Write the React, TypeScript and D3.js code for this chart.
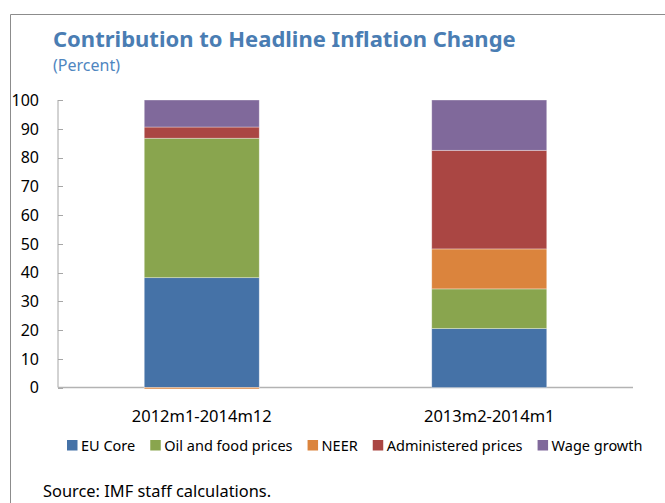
import React, { useEffect, useRef } from "react";
import * as d3 from "d3";

const categories = ["2012m1-2014m12", "2013m2-2014m1"];
const seriesNames = ["EU Core", "Oil and food prices", "NEER", "Administered prices", "Wage growth"];
const euCore = [38.2, 20.5];
const oilFood = [48.5, 13.8];
const neer = [-0.5, 13.9];
const administered = [3.9, 34.3];
const wageGrowth = [9.4, 17.5];
const yTicks = [0, 10, 20, 30, 40, 50, 60, 70, 80, 90, 100];
const colors = ["#4572a7", "#89a54e", "#db843d", "#aa4643", "#80699b"];

const W = 665;
const H = 503;
const FONT = "'Noto Sans', sans-serif";

export default function App() {
  const ref = useRef<SVGSVGElement>(null);

  useEffect(() => {
    const svg = d3.select(ref.current!);
    svg.selectAll("*").remove();

    const seriesValues = [euCore, oilFood, neer, administered, wageGrowth];
    const rows = categories.map((c, i) => {
      const r: Record<string, any> = { category: c };
      seriesNames.forEach((s, k) => (r[s] = seriesValues[k][i]));
      return r;
    });

    const x = d3.scaleBand<string>().domain(categories).range([58, 633]);
    const y = d3.scaleLinear().domain([0, 100]).range([387.5, 100]);
    const barW = x.bandwidth() * 0.4;

    // frame
    svg.append("path")
      .attr("d", `M10.5,${H} V14.5 H${W}`)
      .attr("fill", "none")
      .attr("stroke", "#8c8c8c")
      .attr("stroke-width", 1);

    // title
    svg.append("text")
      .attr("x", 53).attr("y", 46.5)
      .attr("font-family", FONT).attr("font-size", 22).attr("font-weight", "bold")
      .attr("fill", "#4a7db3")
      .text("Contribution to Headline Inflation Change");
    svg.append("text")
      .attr("x", 53).attr("y", 71)
      .attr("font-family", FONT).attr("font-size", 16)
      .attr("fill", "#4f86c0")
      .text("(Percent)");

    // y axis
    const gy = svg.append("g");
    gy.append("line")
      .attr("x1", 58).attr("x2", 58)
      .attr("y1", y(100)).attr("y2", y(0))
      .attr("stroke", "#a6a6a6").attr("stroke-width", 1);
    yTicks.forEach((t) => {
      gy.append("line")
        .attr("x1", 58).attr("x2", 63)
        .attr("y1", Math.round(y(t)) + 0.5).attr("y2", Math.round(y(t)) + 0.5)
        .attr("stroke", "#a6a6a6").attr("stroke-width", 1);
      gy.append("text")
        .attr("x", 39).attr("y", y(t))
        .attr("dy", "0.36em")
        .attr("text-anchor", "end")
        .attr("font-family", FONT).attr("font-size", 16)
        .attr("fill", "#000")
        .text(String(t));
    });

    // x axis
    svg.append("line")
      .attr("x1", 58).attr("x2", 633)
      .attr("y1", y(0)).attr("y2", y(0))
      .attr("stroke", "#b3b3b3").attr("stroke-width", 1.5);

    // bars
    const stack = d3.stack<Record<string, any>>()
      .keys(seriesNames)
      .offset(d3.stackOffsetDiverging);
    const stacked = stack(rows);
    const gb = svg.append("g");
    stacked.forEach((layer, k) => {
      gb.selectAll(null)
        .data(layer)
        .enter()
        .append("rect")
        .attr("x", (d: any) => x(d.data.category)! + (x.bandwidth() - barW) / 2)
        .attr("width", barW)
        .attr("y", (d: any) => y(Math.max(d[0], d[1])))
        .attr("height", (d: any) => Math.abs(y(d[0]) - y(d[1])))
        .attr("fill", colors[k])
        .attr("stroke", "#ffffff")
        .attr("stroke-opacity", 0.45)
        .attr("stroke-width", 0.75);
    });

    // x labels
    categories.forEach((c) => {
      svg.append("text")
        .attr("x", x(c)! + x.bandwidth() / 2)
        .attr("y", 421.5)
        .attr("text-anchor", "middle")
        .attr("font-family", FONT).attr("font-size", 16.5)
        .attr("fill", "#000")
        .text(c);
    });

    // legend
    const gl = svg.append("g");
    let lx = 67;
    seriesNames.forEach((s, k) => {
      gl.append("rect")
        .attr("x", lx).attr("y", 440)
        .attr("width", 10.5).attr("height", 10.5)
        .attr("fill", colors[k]);
      const t = gl.append("text")
        .attr("x", lx + 14).attr("y", 450.5)
        .attr("font-family", FONT).attr("font-size", 14.5)
        .attr("fill", "#000")
        .text(s);
      const w = (t.node() as SVGTextElement).getComputedTextLength();
      lx = lx + 14 + w + 15;
    });

    // source
    svg.append("text")
      .attr("x", 43).attr("y", 496.5)
      .attr("font-family", FONT).attr("font-size", 16.4)
      .attr("fill", "#000")
      .text("Source: IMF staff calculations.");
  }, []);

  return (
    <svg
      ref={ref}
      width={W}
      height={H}
      style={{ position: "absolute", left: 0, top: 0, display: "block", background: "#fff" }}
    />
  );
}
